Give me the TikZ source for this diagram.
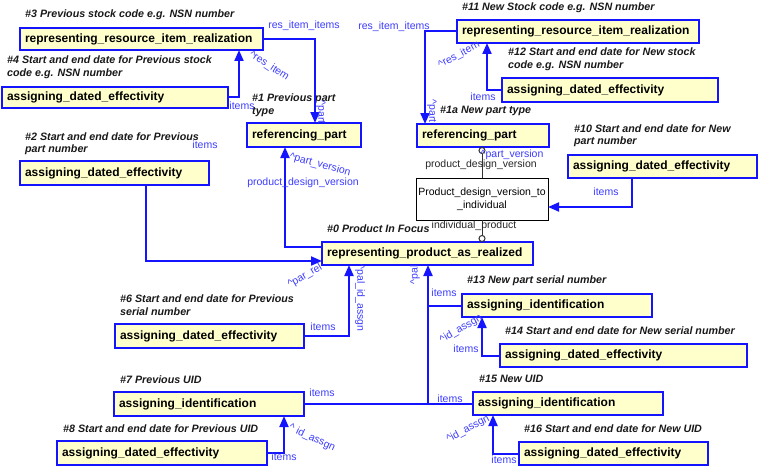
\documentclass[tikz,border=0pt]{standalone}
\usepackage{fontspec}
\setmainfont{Liberation Sans}
\usetikzlibrary{arrows.meta,calc}
\definecolor{bblue}{RGB}{20,20,255}
\definecolor{lblue}{RGB}{60,60,255}
\definecolor{bfill}{RGB}{255,255,204}
\tikzset{
 box/.style={draw=bblue, line width=2pt, fill=bfill, font=\fontsize{12}{14}\selectfont\bfseries, inner xsep=5pt, inner ysep=0pt, outer sep=0pt, anchor=north west, align=left},
 plainbox/.style={draw=black, line width=1pt, fill=white, font=\fontsize{10.5}{13}\selectfont, inner sep=0pt, outer sep=0pt, anchor=north west, align=center},
 head/.style={font=\fontsize{10.7}{12.5}\selectfont\bfseries\itshape, anchor=west, align=left, inner sep=0pt, text=black!90},
 lab/.style={font=\fontsize{10.5}{12}\selectfont, text=lblue, inner sep=0pt},
 blab/.style={font=\fontsize{10.5}{12}\selectfont, text=black!85, inner sep=0pt},
 conn/.style={draw=bblue, line width=2pt, -{Triangle[length=11pt,width=9pt]}},
 wire/.style={draw=bblue, line width=2pt},
 ring/.style={draw=black!80, line width=1pt, -{Circle[open,length=7pt,width=7pt]}},
}
\begin{document}
\begin{tikzpicture}[x=1pt,y=-1pt]
\useasboundingbox (0,0) rectangle (759,468);
% boxes
\node[box, minimum width=243pt, minimum height=22pt, text width=233pt] (b3) at (20,28) {representing\_resource\_item\_realization};
\node[box, minimum width=226pt, minimum height=21pt, text width=216pt] (b4) at (2,87) {assigning\_dated\_effectivity};
\node[box, minimum width=114pt, minimum height=24pt, text width=104pt] (b1) at (247,123) {referencing\_part};
\node[box, minimum width=189pt, minimum height=24pt, text width=179pt] (b2) at (20,161) {assigning\_dated\_effectivity};
\node[box, minimum width=211pt, minimum height=23pt, text width=201pt] (b0) at (322,242) {representing\_product\_as\_realized};
\node[box, minimum width=132pt, minimum height=23pt, text width=122pt] (b1a) at (417,124) {referencing\_part};
\node[box, minimum width=242pt, minimum height=23pt, text width=232pt] (b11) at (457,20) {representing\_resource\_item\_realization};
\node[box, minimum width=216pt, minimum height=24pt, text width=206pt] (b12) at (502,78) {assigning\_dated\_effectivity};
\node[plainbox, minimum width=132pt, minimum height=42pt] (pdv) at (416,178) {Product\_design\_version\_to\\\_individual};
\node[box, minimum width=189pt, minimum height=23pt, text width=179pt] (b10) at (568,155) {assigning\_dated\_effectivity};
\node[box, minimum width=190pt, minimum height=23pt, text width=180pt] (b13) at (462,294) {assigning\_identification};
\node[box, minimum width=247pt, minimum height=23pt, text width=237pt] (b14) at (500,344) {assigning\_dated\_effectivity};
\node[box, minimum width=190pt, minimum height=23pt, text width=180pt] (b15) at (473,392) {assigning\_identification};
\node[box, minimum width=189pt, minimum height=23pt, text width=179pt] (b16) at (519,442) {assigning\_dated\_effectivity};
\node[box, minimum width=189pt, minimum height=24pt, text width=179pt] (b6) at (115,324) {assigning\_dated\_effectivity};
\node[box, minimum width=190pt, minimum height=24pt, text width=180pt] (b7) at (114,392) {assigning\_identification};
\node[box, minimum width=210pt, minimum height=24pt, text width=200pt] (b8) at (57,441) {assigning\_dated\_effectivity};
% headings
\node[head] (h3) at (25,15) {\#3 Previous stock code e.g. NSN number};
\node[head] (h4) at (7,67) {\#4 Start and end date for Previous stock\\code e.g. NSN number};
\node[head] (h1) at (252,105) {\#1 Previous part\\type};
\node[head] (h2) at (25,143.5) {\#2 Start and end date for Previous\\part number};
\node[head] (h0) at (327,229) {\#0 Product In Focus};
\node[head] (h11) at (462,7.5) {\#11 New Stock code e.g. NSN number};
\node[head] (h12) at (508,59) {\#12 Start and end date for New stock\\code e.g. NSN number};
\node[head] (h1a) at (440,111) {\#1a New part type};
\node[head] (h10) at (574,135.5) {\#10 Start and end date for New\\part number};
\node[head] (h13) at (467,281) {\#13 New part serial number};
\node[head] (h14) at (505,331) {\#14 Start and end date for New serial number};
\node[head] (h15) at (479,379) {\#15 New UID};
\node[head] (h16) at (524,429) {\#16 Start and end date for New UID};
\node[head] (h6) at (120,305) {\#6 Start and end date for Previous\\serial number};
\node[head] (h7) at (120,380) {\#7 Previous UID};
\node[head] (h8) at (63,429) {\#8 Start and end date for Previous UID};
% connectors
\draw[conn] (b4.east) -| ($(b3.south west)+(219,0)$);
\draw[conn] (b3.east) -| ($(b1.north west)+(68,0)$);
\draw[conn] (b11.west) -| ($(b1a.north west)+(8,0)$);
\draw[conn] (b12.west) -| ($(b11.south west)+(30,0)$);
\draw[ring] (pdv.north) -- (b1a.south -| pdv.north);
\draw[ring] (pdv.south) -- (b0.north -| pdv.south);
\draw[conn] ($(b10.south west)+(64,0)$) |- ($(pdv.north east)+(0,29)$);
\draw[conn] ($(b2.south west)+(126,0)$) |- ($(b0.south west)+(0,-4)$);
\draw[conn] ($(b0.north west)+(0,5)$) -| ($(b1.south west)+(38,0)$);
\draw[conn] (b6.east) -| ($(b0.south west)+(27,0)$);
\draw[conn] (b8.east) -| ($(b7.south west)+(170,0)$);
\draw[conn] (b14.west) -| ($(b13.south west)+(20,0)$);
\draw[conn] (b16.west) -| ($(b15.south west)+(20,0)$);
\coordinate (jn) at ($(b0.south west)+(106,0)$);
\draw[conn] (b7.east) -| (jn);
\draw[wire] (b15.west) -- (b15.west -| jn);
\draw[wire] (b13.west) -- (b13.west -| jn);
% labels
\node[lab] (l1) at (304,26) {res\_item\_items};
\node[lab, rotate=-90] (l2) at (321,112) {\textasciicircum part};
\node[lab, rotate=-33] (l3) at (269,66) {\textasciicircum res\_item};
\node[lab] (l4) at (242,106) {items};
\node[lab] (l5) at (394,27) {res\_item\_items};
\node[lab, rotate=-90] (l6) at (432,111) {\textasciicircum part};
\node[lab, rotate=28] (l7) at (459,55) {\textasciicircum res\_item};
\node[lab] (l8) at (483,97) {items};
\node[lab] (l9) at (512,155) {\textasciicircum part\_version};
\node[blab] (l10) at (481,165) {product\_design\_version};
\node[blab] (l11) at (474,226) {individual\_product};
\node[lab] (l12) at (606,192) {items};
\node[lab] (l13) at (205,145) {items};
\node[lab, rotate=-15] (l14) at (320,165) {\textasciicircum part\_version};
\node[lab] (l15) at (303,183) {product\_design\_version};
\node[lab, rotate=30] (l16) at (305,276) {\textasciicircum par\_rel};
\node[lab, rotate=-90] (l17) at (360,298) {\textasciicircum pal\_id\_assgn};
\node[lab] (l18) at (323,327) {items};
\node[lab, rotate=90] (l19) at (415,275) {\textasciicircum pal};
\node[lab] (l20) at (444,293) {items};
\node[lab, rotate=30] (l21) at (461,329) {\textasciicircum id\_assgn};
\node[lab] (l22) at (466,349) {items};
\node[lab] (l23) at (322,393) {items};
\node[lab] (l24) at (450,399) {items};
\node[lab, rotate=-25] (l25) at (312,438) {\textasciicircum\ id\_assgn};
\node[lab] (l26) at (284,457) {items};
\node[lab, rotate=28] (l27) at (468,429) {\textasciicircum id\_assgn};
\node[lab] (l28) at (504,460) {items};
\end{tikzpicture}
\end{document}
